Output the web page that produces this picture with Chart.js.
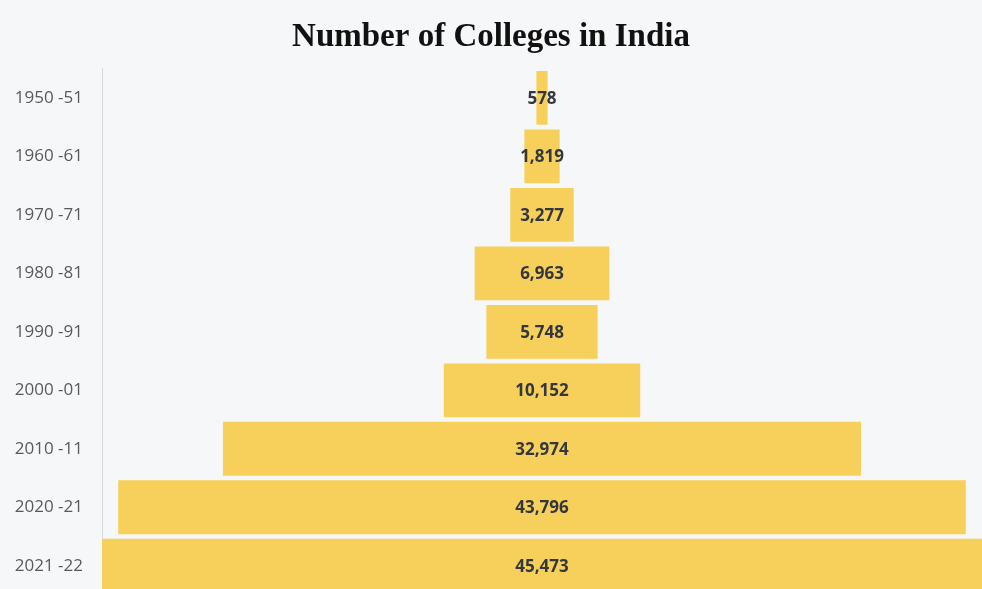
<!DOCTYPE html>
<html>
<head>
<meta charset="utf-8">
<script src="https://cdn.jsdelivr.net/npm/chart.js@4/dist/chart.umd.min.js"></script>
<style>
  html, body { margin: 0; padding: 0; overflow: hidden; background: #F6F7F8; }
  canvas { display: block; }
</style>
</head>
<body>
<canvas id="chart" width="982" height="595"></canvas>
<script>
// Academic years and the number of colleges in each
const years = ['1950 -51', '1960 -61', '1970 -71', '1980 -81', '1990 -91', '2000 -01', '2010 -11', '2020 -21', '2021 -22'];
const colleges = [578, 1819, 3277, 6963, 5748, 10152, 32974, 43796, 45473];

const maxVal = Math.max(...colleges);
// Each bar is centred on zero so the stack reads as a funnel
const centred = colleges.map(v => [-v / 2, v / 2]);

// Writes the value in the middle of each bar
const valueLabels = {
  id: 'valueLabels',
  afterDatasetsDraw(chart) {
    const ctx = chart.ctx;
    const meta = chart.getDatasetMeta(0);
    ctx.save();
    ctx.font = '700 17px "Open Sans"';
    ctx.fillStyle = '#34373d';
    ctx.textAlign = 'center';
    ctx.textBaseline = 'middle';
    meta.data.forEach((bar, i) => {
      const c = bar.getCenterPoint();
      ctx.fillText(colleges[i].toLocaleString('en-US'), c.x, c.y + 1);
    });
    ctx.restore();
  }
};

new Chart(document.getElementById('chart'), {
  type: 'bar',
  data: {
    labels: years,
    datasets: [{
      data: centred,
      backgroundColor: '#F6D05A',
      borderWidth: 0,
      borderSkipped: false,
      categoryPercentage: 1,
      barPercentage: 0.92
    }]
  },
  options: {
    indexAxis: 'y',
    responsive: false,
    animation: false,
    layout: { padding: 0 },
    plugins: {
      legend: { display: false },
      tooltip: { enabled: false },
      title: {
        display: true,
        text: 'Number of Colleges in India',
        color: '#111111',
        font: { family: '"Liberation Serif", "Times New Roman", serif', size: 33, weight: 'bold', lineHeight: 1.2 },
        padding: { top: 18, bottom: 11 }
      }
    },
    scales: {
      x: {
        display: false,
        min: -maxVal / 2,
        max: maxVal / 2
      },
      y: {
        offset: true,
        grid: { display: false, drawTicks: false },
        border: { display: true, color: '#D9DADB', width: 1 },
        ticks: {
          color: '#5a5a5a',
          padding: 19,
          font: { family: '"Open Sans", sans-serif', size: 17 }
        },
        afterFit(scale) {
          // fixed gutter for the year labels; the bars run to the very bottom edge
          scale.width = 102;
          scale.paddingTop = 0;
          scale.paddingBottom = 0;
        }
      }
    }
  },
  plugins: [valueLabels]
});
</script>
</body>
</html>
